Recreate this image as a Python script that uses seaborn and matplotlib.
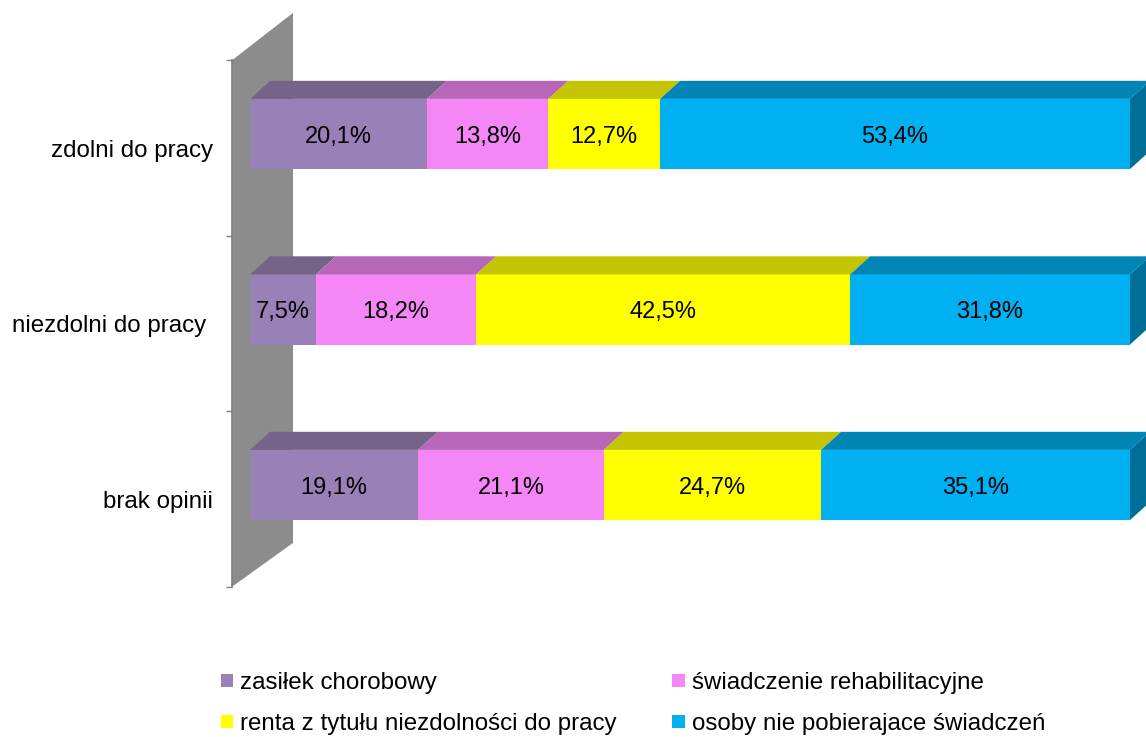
import pandas as pd
import seaborn as sns
import matplotlib.pyplot as plt
from matplotlib.patches import Polygon, Patch

# dane
kategorie = ["zdolni do pracy", "niezdolni do pracy ", "brak opinii"]
serie = ["zasiłek chorobowy", "świadczenie rehabilitacyjne",
         "renta z tytułu niezdolności do pracy", "osoby nie pobierajace świadczeń"]
zasilek = [20.1, 7.5, 19.1]
rehab = [13.8, 18.2, 21.1]
renta = [12.7, 42.5, 24.7]
bez_swiadczen = [53.4, 31.8, 35.1]

kolory = ["#9980B6", "#F586F5", "#FFFF00", "#00B0F0"]
kolory_gora = ["#76638A", "#B866B8", "#C4C400", "#0085B5"]
kolor_bok = "#006F98"
kolor_sciany = "#8C8C8C"

sns.set_theme(style="white")
plt.rcParams["font.family"] = ["Liberation Sans", "DejaVu Sans"]
plt.rcParams["text.color"] = "black"
plt.rcParams["ytick.labelcolor"] = "black"

df = pd.DataFrame({"kategoria": kategorie, serie[0]: zasilek, serie[1]: rehab,
                   serie[2]: renta, serie[3]: bez_swiadczen})
df_cum = df.copy()
df_cum[serie] = df[serie].cumsum(axis=1)

fig = plt.figure(figsize=(11.46, 7.37), dpi=100)
ax = fig.add_axes([232 / 1146, 0, (1146 - 232) / 1146, 1])

H = 0.4        # wysokosc slupka
DX, DY = 2.27, 0.103   # glebokosc 3D
X0 = -2.05     # lewa krawedz osi
OFF = 0.08

# sciana boczna (szara)
sciana = Polygon([(X0, -0.42), (X0 + 6.93, -0.69), (X0 + 6.93, 2.33), (X0, 2.58)],
                 closed=True, facecolor=kolor_sciany, edgecolor="none", zorder=1)
ax.add_patch(sciana)

# przednie sciany slupkow (skumulowane)
for i in reversed(range(len(serie))):
    sns.barplot(data=df_cum, x=serie[i], y="kategoria", color=kolory[i],
                width=H, saturation=1, linewidth=0, errorbar=None,
                orient="h", ax=ax, zorder=3)

# gorne i boczne sciany
for j in range(len(kategorie)):
    top = j - H / 2
    bottom = j + H / 2
    start = 0
    for i, s in enumerate(serie):
        end = df_cum.loc[j, s]
        ax.add_patch(Polygon([(start, top), (end, top), (end + DX, top - DY), (start + DX, top - DY)],
                             closed=True, facecolor=kolory_gora[i], edgecolor="none", zorder=3))
        val = df.loc[j, s]
        ax.text((start + end) / 2, j + 0.015, f"{val:.1f}".replace(".", ",") + "%",
                ha="center", va="center", fontsize=17, color="black", zorder=5)
        start = end
    ax.add_patch(Polygon([(start, top), (start + DX, top - DY), (start + DX, bottom - DY), (start, bottom)],
                         closed=True, facecolor=kolor_bok, edgecolor="none", zorder=3))

ax.set_xlim(X0, 101.82)
ax.set_ylim(3.436, -0.7635)
ax.set_xlabel("")
ax.set_ylabel("")
ax.set_xticks([])
ax.set_yticks([j + OFF for j in range(len(kategorie))])
ax.set_yticklabels(kategorie, fontsize=17.4, color="black")
ax.set_yticks([j + OFF - 0.5 for j in range(len(kategorie) + 1)], minor=True)
ax.tick_params(axis="y", which="major", length=0, pad=13.5)
ax.tick_params(axis="y", which="minor", length=4.3, width=1, color="#808080", left=True)
for s in ["top", "right", "bottom"]:
    ax.spines[s].set_visible(False)
ax.spines["left"].set_color("#808080")
ax.spines["left"].set_bounds(OFF - 0.5, len(kategorie) + OFF - 0.5)
ax.patch.set_alpha(0)

# legenda
kolejnosc = [0, 2, 1, 3]
uchwyty = [Patch(facecolor=kolory[k], edgecolor="none") for k in kolejnosc]
etykiety = [serie[k] for k in kolejnosc]
fig.legend(uchwyty, etykiety, ncol=2, loc="upper left", bbox_to_anchor=(0.1928, 0.088),
           frameon=False, fontsize=17.4, handlelength=0.5, handleheight=0.5,
           handletextpad=0.3, columnspacing=2.3, labelspacing=0.78,
           borderpad=0, borderaxespad=0, labelcolor="black")

fig.savefig("out.png", dpi=100)
